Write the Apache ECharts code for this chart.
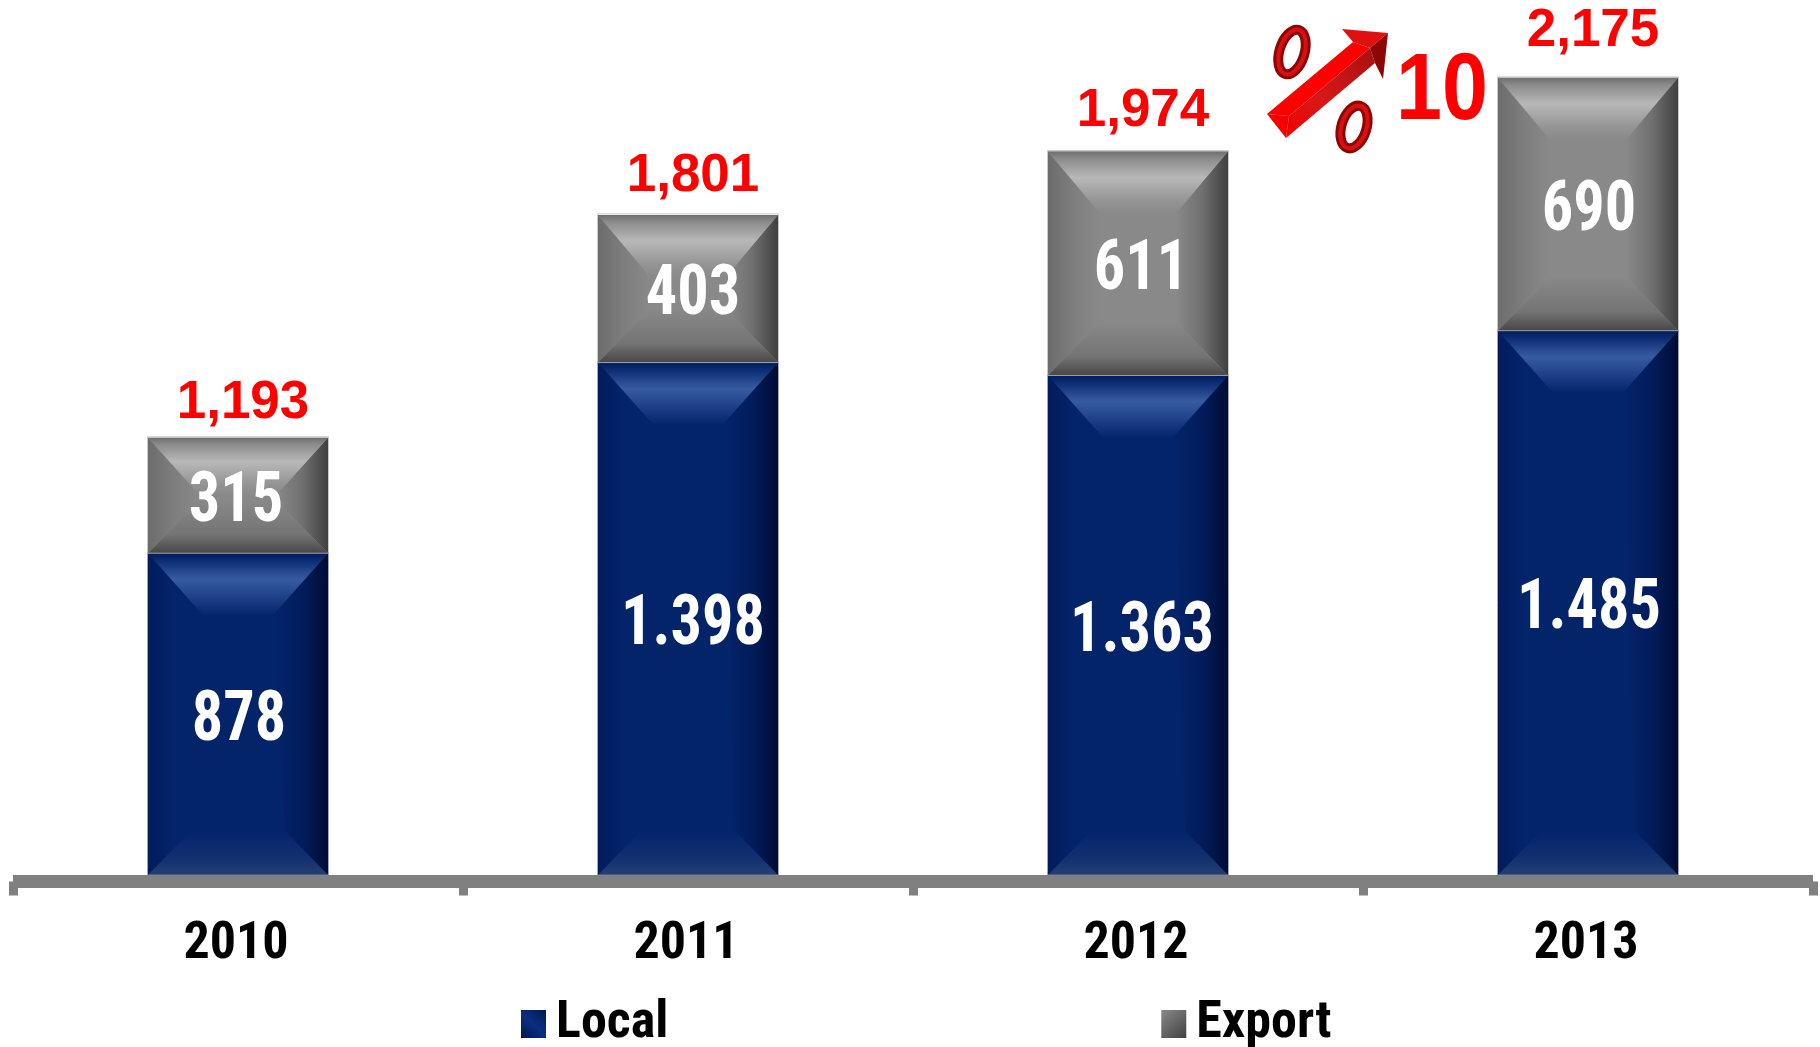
<!DOCTYPE html>
<html><head><meta charset="utf-8">
<style>html,body{margin:0;padding:0;background:#fff}#c{width:1820px;height:1047px}</style>
<script src="https://cdn.jsdelivr.net/npm/echarts@6/dist/echarts.min.js"></script>
</head><body><div id="c"></div>
<script>
const years = ['2010','2011','2012','2013'];
const localValues = [878,1398,1363,1485];
const exportValues = [315,403,611,690];
const totalValues = [1193,1801,1974,2175];
const legendLabels = ['Local','Export'];

const LG = echarts.graphic.LinearGradient;
const NARROW = '"Roboto Condensed","Liberation Sans",Arial,sans-serif';
const SANS = '"Liberation Sans",Arial,sans-serif';

const looks = {
  Local:{ base:'#04246a', inset:55, insetB:43, top:62, bottom:44, rim:'#7f8aa8', nudge:[1,5,4,1],
    topStops:[[0,'#021a5e'],[0.12,'#0c2d74'],[0.42,'#375ba1'],[0.75,'#1a3c85'],[1,'#05256b']],
    leftStops:[[0,'#021b5c'],[0.5,'#04246a'],[1,'#04246a']],
    rightStops:[[0,'#04246a'],[0.55,'#021c5a'],[1,'#000c33']],
    bottomStops:[[0,'#04246a'],[0.6,'#122f70'],[1,'#24406f']] },
  Export:{ base:'#898989', inset:52, insetB:52, top:62, bottom:54, rim:'#b8b8b8', nudge:[-2,5,3,1],
    topStops:[[0,'#6f6f6f'],[0.12,'#8c8c8c'],[0.42,'#b8b8b8'],[0.8,'#949494'],[1,'#898989']],
    leftStops:[[0,'#6c6c6c'],[0.5,'#7e7e7e'],[1,'#898989']],
    rightStops:[[0,'#898989'],[0.5,'#707070'],[1,'#404040']],
    bottomStops:[[0,'#898989'],[0.65,'#747474'],[1,'#474747']] }
};
const totalLift = [3,-2,-3,-9];
const grad = (vertical, stops) => new LG(0,0,vertical?0:1,vertical?1:0, stops.map(s=>({offset:s[0],color:s[1]})));

function bevelBar(look, fmt){
  return function(params, api){
    const i = api.value(0), from = api.value(1), to = api.value(2), v = to-from;
    const pB = api.coord([i,from]), pT = api.coord([i,to]);
    const w = api.size([1,0])[0]*0.4;
    const x0 = pB[0]-w/2, x1 = pB[0]+w/2, yT = pT[1], yB = pB[1], h = yB-yT;
    const dT = Math.min(look.top,h*0.5), dB = Math.min(look.bottom,h*0.46);
    const iT = look.inset, iB = look.insetB;
    const poly = (pts,fill)=>({type:'polygon',shape:{points:pts},style:{fill:fill}});
    const yiT = yT+dT, yiB = yB-dB;
    return {type:'group',children:[
      {type:'rect',shape:{x:x0,y:yT,width:w,height:h},style:{fill:look.base}},
      poly([[x0,yT],[x0+iT,yiT],[x0+iB,yiB],[x0,yB]],grad(false,look.leftStops)),
      poly([[x1,yT],[x1-iT,yiT],[x1-iB,yiB],[x1,yB]],grad(false,look.rightStops)),
      poly([[x0,yT],[x1,yT],[x1-iT,yiT],[x0+iT,yiT]],grad(true,look.topStops)),
      poly([[x0,yB],[x1,yB],[x1-iB,yiB],[x0+iB,yiB]],grad(true,look.bottomStops)),
      {type:'rect',shape:{x:x0-0.5,y:yT-1,width:w+1,height:h+1},style:{fill:'none',stroke:look.rim,lineWidth:1,opacity:0.75}},
      {type:'text',x:pB[0]+look.nudge[i],y:(yT+yB)/2+8,scaleX:0.89,style:{text:fmt(v),fill:'#fff',font:'bold 70px '+NARROW,align:'center',verticalAlign:'middle'}}
    ]};
  };
}
const fmtInner = v => v>=1000 ? String(v).replace(/(\d)(\d{3})$/,'$1.$2') : String(v);
const fmtTotal = v => String(v).replace(/(\d)(\d{3})$/,'$1,$2');
const localRows = years.map((y,i)=>[i,0,localValues[i]]);
const exportRows = years.map((y,i)=>[i,localValues[i],localValues[i]+exportValues[i]]);

const chart = echarts.init(document.getElementById('c'));
chart.setOption({
  animation:false,
  backgroundColor:'#fff',
  grid:{left:13,width:1800,top:32,height:843,containLabel:false},
  xAxis:{type:'category',data:years,offset:6.5,
    axisLine:{onZero:false,lineStyle:{color:'#808080',width:13,cap:'butt'}},
    axisTick:{show:true,length:14,lineStyle:{color:'#808080',width:9}},
    axisLabel:{margin:37,color:'#000',fontFamily:NARROW,fontWeight:'bold',fontSize:52,padding:[0,4,0,0]}},
  yAxis:{type:'value',min:0,max:2300,show:false},
  legend:{left:521,top:997,padding:0,itemGap:493,itemWidth:25,itemHeight:28,selectedMode:false,
    textStyle:{fontFamily:NARROW,fontWeight:'bold',fontSize:52,color:'#000',padding:[2,0,0,5],lineHeight:52},
    data:[{name:legendLabels[0],icon:'rect'},{name:legendLabels[1],icon:'rect'}]},
  series:[
    {name:legendLabels[0],type:'custom',data:localRows,encode:{x:0,y:[1,2]},
      itemStyle:{color:new LG(1,0,0,1,[{offset:0,color:'#00174f'},{offset:0.5,color:'#0a2f80'},{offset:1,color:'#00174f'}])},
      renderItem:bevelBar(looks.Local,fmtInner)},
    {name:legendLabels[1],type:'custom',data:exportRows,encode:{x:0,y:[1,2]},
      itemStyle:{color:new LG(0,0,1,1,[{offset:0,color:'#8a8a8a'},{offset:1,color:'#404040'}])},
      renderItem:bevelBar(looks.Export,fmtInner)},
    {name:'Total',type:'line',data:totalValues.map((v,i)=>({value:v,label:{offset:[5,totalLift[i]]}})),symbol:'circle',symbolSize:1,z:5,
      itemStyle:{color:'rgba(0,0,0,0)'},lineStyle:{opacity:0,width:0},
      label:{show:true,position:'top',distance:10,color:'#ff0000',
        fontFamily:SANS,fontWeight:'bold',fontSize:53,formatter:p=>fmtTotal(p.value)}}
  ],
  graphic:{elements:[
    {type:'polygon',shape:{points:[[1267,114],[1353,42],[1370,48],[1289,116]]},style:{fill:'#ff0000'},z:10},
    {type:'polygon',shape:{points:[[1289,116],[1370,48],[1375,63],[1286,138]]},style:{fill:new LG(1,0,0,1,[{offset:0,color:'#a81010'},{offset:0.6,color:'#d81818'},{offset:1,color:'#f00000'}])},z:10},
    {type:'polygon',shape:{points:[[1267,114],[1289,116],[1286,138]]},style:{fill:'#f40000'},z:10},
    {type:'polygon',shape:{points:[[1342,29],[1388,33],[1370,48],[1353,42]]},style:{fill:'#e01010'},z:10},
    {type:'polygon',shape:{points:[[1388,33],[1383,79],[1375,63],[1370,48]]},style:{fill:'#8c0606'},z:10},
    {type:'ellipse',x:1292,y:52,rotation:-0.3,shape:{cx:0,cy:0,rx:12.5,ry:23},style:{fill:'none',stroke:'#8e0505',lineWidth:10},z:10},
    {type:'ellipse',x:1292,y:52,rotation:-0.3,shape:{cx:0,cy:0,rx:12.5,ry:23},style:{fill:'none',stroke:'#d81010',lineWidth:4},z:10},
    {type:'ellipse',x:1354,y:127,rotation:-0.3,shape:{cx:0,cy:0,rx:12.5,ry:22},style:{fill:'none',stroke:'#8e0505',lineWidth:10},z:10},
    {type:'ellipse',x:1354,y:127,rotation:-0.3,shape:{cx:0,cy:0,rx:12.5,ry:22},style:{fill:'none',stroke:'#d81010',lineWidth:4},z:10},
    {type:'text',x:1442,y:93,scaleX:0.88,style:{text:'10',fill:'#ff0000',font:'bold 94px '+SANS,align:'center',verticalAlign:'middle'},z:10}
  ]}
});
</script></body></html>
